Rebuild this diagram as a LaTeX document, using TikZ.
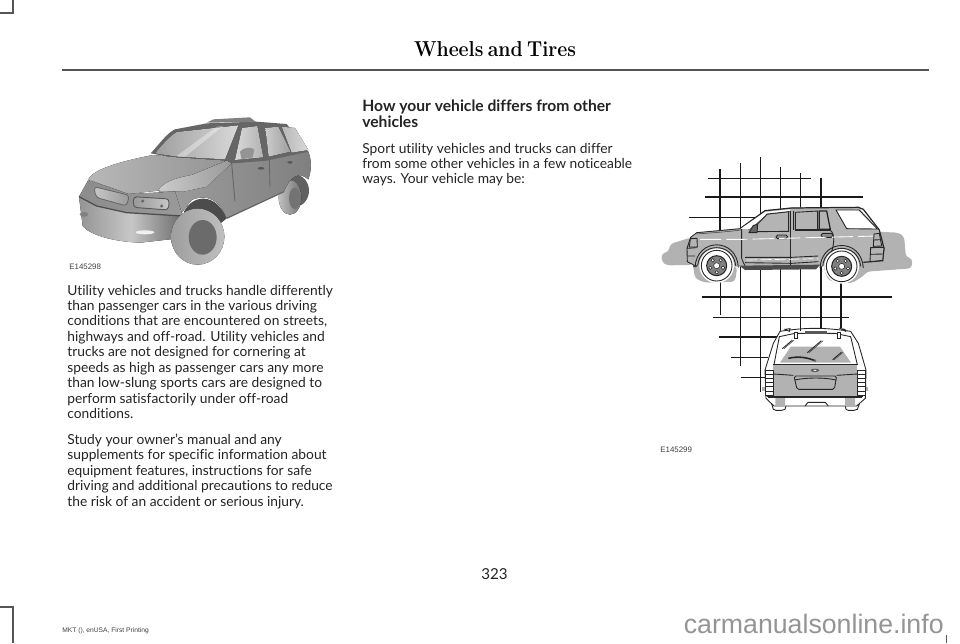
\documentclass[tikz,border=0pt]{standalone}
\usepackage{fontspec}
\setmainfont[Ligatures=NoCommon]{Lato}
\newfontfamily\capfont{Liberation Sans}
\newfontfamily\titlefont[FakeStretch=0.9,WordSpace=0.6]{Latin Modern Roman}
\usetikzlibrary{positioning,calc}
\definecolor{inkline}{RGB}{35,35,35}
\definecolor{ruleline}{RGB}{85,85,85}
\definecolor{shadowgray}{RGB}{178,178,178}
\definecolor{bodygray}{RGB}{180,180,180}
\tikzset{
  bodytext/.style={anchor=north west,align=left,inner sep=0pt,text=inkline,font=\fontsize{7.85}{8.79}\selectfont},
  captext/.style={anchor=west,inner sep=0pt,text=black!75,font=\capfont\fontsize{4.5}{5}\selectfont},
  gridline/.style={line width=0.7pt,black!90},
  carline/.style={line width=0.5pt,black!85},
  thinline/.style={line width=0.3pt,black!75},
  cropmark/.style={line width=0.7pt,ruleline},
}
\begin{document}
\begin{tikzpicture}[x=0.02cm,y=-0.02cm]
    \useasboundingbox (0,0) rectangle (960,643);
    % crop marks and header
    \draw[cropmark] (13,0) -- (13,13) -- (0,13);
    \draw[cropmark] (0,607) -- (13,607) -- (13,643);
    \draw[cropmark] (946.7,635) -- (946.7,643);
    \draw[line width=0.9pt,ruleline] (62,70) -- (928.5,70);
    \node[anchor=base,inner sep=0pt,font=\titlefont\fontsize{12.3}{14}\selectfont\bfseries] (title) at (495,56.5) {Wheels and Tires};

    % left column
    \node[bodytext] (para1) at (67,284.5) {Utility vehicles and trucks handle differently\\than passenger cars in the various driving\\conditions that are encountered on streets,\\highways and off-road. Utility vehicles and\\trucks are not designed for cornering at\\speeds as high as passenger cars any more\\than low-slung sports cars are designed to\\perform satisfactorily under off-road\\conditions.};
    \node[bodytext] (para2) at (67,433.5) {Study your owner's manual and any\\supplements for specific information about\\equipment features, instructions for safe\\driving and additional precautions to reduce\\the risk of an accident or serious injury.};
    \node[captext] (cap1) at (69,267) {E145298};

    % middle column
    \node[bodytext,font=\fontsize{8.9}{8.9}\selectfont\bfseries] (head) at (362,100) {How your vehicle differs from other\\vehicles};
    \node[bodytext] (para3) at (362,142.5) {Sport utility vehicles and trucks can differ\\from some other vehicles in a few noticeable\\ways. Your vehicle may be:};
    \node[captext] (cap2) at (660,450) {E145299};

    % footer
    \node[inner sep=0pt,text=inkline,font=\fontsize{8.6}{10}\selectfont] (pagenum) at (494.5,574) {323};
    \node[captext,font=\capfont\fontsize{3.8}{5}\selectfont] (footer) at (62,630.5) {MKT (), enUSA, First Printing};
    \node[anchor=base east,inner sep=0pt,text=black!42,font=\capfont\fontsize{15.2}{17}\selectfont] (mark) at (944,633) {carmanualsonline.info};

    % photo of the truck, three quarter view
    \begin{scope}[shift={(60,100)},scale=1/3]
        % rear wheel
        \fill[black!62] (705,272) ellipse [x radius=42,y radius=48];
        \fill[left color=black!25,right color=black!55] (690,292) ellipse [x radius=34,y radius=52];
        \fill[black!55] (704,295) ellipse [x radius=17,y radius=32];
        % side of the body
        \fill[left color=black!38,right color=black!50] (295,272) -- (500,180) -- (600,178) -- (745,155) .. controls (755,180) and (755,210) .. (745,238) .. controls (715,212) and (690,230) .. (672,275) -- (500,355) .. controls (480,300) and (440,280) .. (395,300) -- (360,345) -- (320,290) -- cycle;
        % greenhouse
        \fill[black!60] (272,160) .. controls (300,130) and (320,100) .. (345,88) -- (440,70) -- (590,65) -- (680,72) -- (745,155) -- (620,182) -- (520,190) -- (495,185) -- (350,175) -- cycle;
        \fill[left color=black!38,right color=black!15] (285,160) .. controls (310,130) and (330,108) .. (350,96) -- (535,76) -- (495,178) -- (350,170) -- cycle;
        \fill[white,opacity=0.35] (350,168) -- (470,80) -- (490,78) -- (375,170) -- cycle;
        \fill[left color=black!15,right color=black!30] (525,180) -- (546,84) -- (592,78) -- (610,172) -- cycle;
        \fill[left color=black!20,right color=black!38] (616,84) -- (655,80) -- (692,155) -- (626,170) -- cycle;
        \fill[left color=black!28,right color=black!15] (665,80) -- (705,84) -- (745,150) -- (695,158) -- cycle;
        \fill[black!42] (540,155) .. controls (550,140) and (580,140) .. (583,150) -- (578,172) -- (545,178) -- cycle;
        % roof rack
        \fill[black!50] (440,68) -- (460,58) -- (570,52) -- (588,66) -- cycle;
        % door edges and handles
        \draw[black!60,line width=0.5pt] (515,190) -- (525,305) (628,175) -- (630,262);
        \fill[black!65] (603,205) ellipse [x radius=10,y radius=4] (690,187) ellipse [x radius=8,y radius=4];
        \draw[black!60,line width=0.7pt] (500,355) -- (672,275);
        % hood
        \fill[left color=black!28,right color=black!42] (85,238) .. controls (100,205) and (200,180) .. (280,165) -- (350,172) -- (500,182) -- (395,225) .. controls (340,235) and (305,250) .. (295,272) -- (205,282) -- cycle;
        \fill[left color=black!20,right color=black!40] (295,272) .. controls (305,250) and (340,235) .. (395,225) -- (500,182) -- (515,190) -- (440,260) -- (370,275) -- cycle;
        % nose and lamps
        \fill[left color=black!45,right color=black!40] (57,290) -- (85,240) -- (205,282) -- (345,275) -- (368,348) -- (200,338) -- (110,318) -- cycle;
        \fill[left color=black!22,right color=black!40,draw=black!60,line width=0.4pt,rounded corners=2pt] (102,260) -- (208,286) -- (200,318) -- (108,292) -- cycle;
        \fill[left color=black!40,right color=black!22,draw=black!65,line width=0.5pt,rounded corners=2pt] (220,290) -- (328,297) -- (325,330) -- (220,322) -- cycle;
        \fill[black!60] (248,303) circle (5) (305,318) circle (5);
        % bumper
        \fill[left color=black!42,right color=black!58,middle color=black!22] (57,290) -- (110,318) -- (200,338) -- (368,348) -- (358,415) -- (240,428) .. controls (160,425) and (90,405) .. (68,378) -- cycle;
        \draw[black!70,line width=0.7pt] (57,290) -- (110,318) -- (200,338) -- (368,348);
        \fill[black!50] (72,343) ellipse [x radius=13,y radius=7];
        \fill[black!6] (255,397) ellipse [x radius=28,y radius=6];
        % front wheel and its arch
        \fill[black!70] (372,335) .. controls (400,280) and (470,280) .. (500,355) -- (470,380) -- (380,360) -- cycle;
        \fill[left color=black!38,right color=black!25] (413,410) ellipse [x radius=80,y radius=84];
        \fill[black!58] (428,412) ellipse [x radius=42,y radius=52];
    \end{scope}

    % grid behind the side view
    \foreach \gx/\gtop/\gbot in {720/169/230,740.3/163/366,760.3/157/391.7,780.7/167/331,800.7/173/331,821/178/328}
        \draw[gridline] (\gx,\gtop) -- (\gx,\gbot);
    \draw[gridline] (720.7,280) -- (720.7,315);
    \draw[gridline] (841,280) -- (841,328);
    \foreach \gy/\gleft/\gright in {178.3/708.3/810.7,197/705/862.7,217.3/688.7/765,297/701.7/892.3,317.3/713.3/849.3,337/718.7/777,357.3/731.3/768,377.3/740.7/766}
        \draw[gridline] (\gleft,\gy) -- (\gright,\gy);

    % side view of the truck
    \begin{scope}[shift={(650,150)},scale=1/3]
        % shadow
        \fill[shadowgray,rounded corners=2pt] (35,310) -- (56,306) -- (60,282) -- (125,262) -- (128,345) -- (50,346) -- (35,335) -- cycle;
        \fill[shadowgray,rounded corners=2pt] (128,340) -- (135,385) -- (165,398) -- (255,395) -- (262,350) -- cycle;
        \fill[shadowgray,rounded corners=2pt] (520,350) -- (535,392) -- (605,400) -- (640,378) -- (650,365) -- (785,355) -- (787,325) -- (768,322) -- (762,258) -- (745,248) -- (680,245) -- (640,210) -- (600,192) -- (560,190) -- cycle;
        % body
        \fill[bodygray] (112,295) -- (122,262) -- (140,248) -- (270,235) -- (350,180) -- (430,172) -- (625,172) -- (685,238) -- (700,295) -- (697,332) -- (640,338) -- (500,350) -- (270,350) -- (135,345) -- (112,335) -- cycle;
        % body outline, roof and rear
        \draw[carline,line width=0.7pt] (270,236) -- (345,182) -- (425,174) -- (625,172) -- (640,178) -- (688,240) -- (702,295) -- (698,332) -- (640,337);
        \draw[carline] (295,240) -- (352,192) -- (420,184);
        \fill[white] (272,236) -- (345,186) -- (420,178) -- (420,184) -- (352,192) -- (298,238) -- cycle;
        \draw[carline] (272,236) -- (140,248) -- (122,262) -- (111,295) -- (112,335) -- (135,347);
        \draw[thinline] (140,252) .. controls (190,248) and (240,245) .. (272,240);
        % rear window
        \fill[white] (558,180) -- (627,180) -- (682,237) -- (590,236) -- cycle;
        \draw[carline] (558,180) -- (627,180) -- (682,237) -- (590,236) -- cycle;
        % side windows
        \fill[bodygray] (322,244) -- (356,196) -- (416,187) -- (416,244) -- cycle;
        \draw[carline] (298,247) -- (352,192) -- (416,185) -- (416,244) -- (322,245);
        \fill[bodygray,draw=black!85,line width=0.5pt] (436,187) -- (503,183) -- (503,240) -- (436,240) -- cycle;
        \fill[bodygray,draw=black!85,line width=0.7pt] (508,183) -- (530,183) -- (541,238) -- (508,238) -- cycle;
        \fill[black!60,draw=black!85,line width=0.5pt] (297,248) -- (310,226) -- (323,224) -- (321,248) -- cycle;
        \draw[carline,line width=0.8pt] (322,244) -- (416,244) (436,240) -- (541,240);
        % door edges and handles
        \draw[carline] (275,237) -- (275,325) .. controls (278,335) and (282,342) .. (285,347);
        \draw[carline] (422,182) -- (422,345);
        \draw[carline] (430,182) -- (430,240);
        \draw[carline] (540,240) .. controls (555,250) and (555,280) .. (540,320);
        \fill[black!45,draw=black!85,line width=0.5pt,rounded corners=1pt] (378,255) rectangle (413,266);
        \fill[black!45,draw=black!85,line width=0.5pt,rounded corners=1pt] (513,250) rectangle (549,262);
        % belt moulding
        \draw[white,line width=0.5pt,dash pattern=on 12pt off 3pt] (150,268) -- (280,268) -- (680,258);
        % rocker and sill
        \draw[carline] (285,322) -- (425,322) -- (505,318);
        \draw[carline] (285,338) -- (425,340) -- (505,335);
        \draw[white,line width=0.4pt,dash pattern=on 6pt off 2pt] (290,330) -- (505,326);
        \fill[black!70] (268,347) -- (510,344) -- (498,358) -- (285,360) -- cycle;
        % lamps and bumpers
        \fill[bodygray,draw=black!85,line width=0.5pt] (121,266) -- (141,265) -- (142,291) -- (118,291) -- cycle;
        \draw[carline] (111,295) -- (140,293) (112,318) -- (135,318);
        \fill[bodygray,draw=black!85,line width=0.5pt] (672,252) -- (688,250) -- (695,288) -- (670,289) -- cycle;
        \draw[carline] (670,270) -- (692,269);
        \fill[bodygray,draw=black!85,line width=0.5pt] (662,293) -- (702,292) -- (698,331) -- (660,335) -- cycle;
        \draw[carline] (660,313) -- (700,312);
        \fill[black!70] (128,345) rectangle (140,352);
        % wheels
        \foreach \wx/\wy in {200/347,575/349}{
            \fill[white] (\wx,\wy) circle (52);
            \draw[carline] ($(\wx,\wy)+(-65,5)$) .. controls ($(\wx,\wy)+(-60,-85)$) and ($(\wx,\wy)+(60,-85)$) .. ($(\wx,\wy)+(65,5)$);
            \draw[carline] ($(\wx,\wy)+(-57,0)$) .. controls ($(\wx,\wy)+(-50,-72)$) and ($(\wx,\wy)+(50,-72)$) .. ($(\wx,\wy)+(57,0)$);
            \draw[carline] (\wx,\wy) circle (46);
            \fill[black!50,draw=black!85,line width=0.6pt] (\wx,\wy) circle (30);
            \fill[white,draw=black!85,line width=0.3pt] (\wx,\wy) circle (9);
            \foreach \wa in {18,90,162,234,306}
                \fill[white,draw=black!85,line width=0.3pt] ($(\wx,\wy)+(\wa:20)$) circle (5);
        }
    \end{scope}

    % rear view of the truck
    \begin{scope}[shift={(650,290)},scale=1/3]
        \fill[shadowgray] (335,290) rectangle (655,302);
        % tyres
        \fill[white,draw=black!85,line width=0.5pt] (365,342) -- (410,342) -- (405,358) -- (395,361) -- (378,361) -- (370,358) -- cycle;
        \fill[white,draw=black!85,line width=0.5pt] (585,342) -- (628,342) -- (622,358) -- (612,361) -- (595,361) -- (588,358) -- cycle;
        % body
        \fill[white] (390,124) -- (602,124) -- (625,160) -- (648,240) -- (646,325) -- (620,348) -- (372,348) -- (348,325) -- (345,240) -- (370,160) -- cycle;
        \draw[carline] (372,348) -- (620,348) -- (646,325) -- (648,240) -- (625,160) -- (602,124) .. controls (520,112) and (470,112) .. (390,124) -- (370,160) -- (345,240) -- (348,325) -- cycle;
        % glass and tailgate
        \fill[shadowgray] (390,218) -- (422,170) -- (570,170) -- (603,218) -- cycle;
        \fill[shadowgray] (370,225) -- (622,225) -- (622,318) -- (370,318) -- cycle;
        \fill[shadowgray] (376,322) rectangle (405,345) (585,322) rectangle (615,345);
        \draw[carline] (372,224) -- (388,140) -- (435,130) -- (555,130) -- (602,140) -- (622,224);
        \draw[carline] (368,222) -- (625,222);
        \draw[carline] (370,252) -- (430,256) (560,256) -- (622,252);
        \draw[carline] (350,318) -- (640,318);
        \draw[carline,line width=0.7pt] (355,323) -- (635,323);
        % stop lamp, wiper and glass marks
        \fill[black!65] (466,124) rectangle (530,133);
        \fill[white,draw=black!85,line width=0.5pt] (432,127) rectangle (441,144) (561,127) rectangle (570,144);
        \fill[white,draw=black!85,line width=0.5pt] (405,118) -- (420,116) -- (418,124) -- cycle (572,116) -- (585,118) -- (587,124) -- cycle;
        \draw[carline,line width=0.9pt] (415,205) .. controls (445,198) and (470,202) .. (495,212);
        \fill[black!60] (495,212) circle (4);
        \foreach \mx/\my/\mlen in {397/176/30,472/188/42,548/209/26}{
            \draw[carline] (\mx,\my) -- ++(\mlen,-\mlen*0.85);
            \draw[thinline] (\mx+5,\my) -- ++(\mlen,-\mlen*0.85);
        }
        % logo and licence plate recess
        \fill[black!65] (495,241) ellipse [x radius=13,y radius=5];
        \fill[white] (495,241) ellipse [x radius=5,y radius=2];
        \draw[carline,rounded corners=1pt] (432,258) -- (560,258) -- (553,298) -- (441,298) -- cycle;
        \draw[carline] (434,270) .. controls (470,262) and (525,262) .. (558,270);
        % lamps
        \foreach \lx in {347,623}{
            \fill[white,draw=black!85,line width=0.5pt] (\lx,240) rectangle (\lx+23,316);
            \foreach \ly in {252,265,278,290,303}
                \draw[carline] (\lx,\ly) -- (\lx+23,\ly);
        }
        % step pad
        \draw[carline] (465,348) -- (474,337) -- (526,337) -- (535,348);
    \end{scope}
\end{tikzpicture}
\end{document}
